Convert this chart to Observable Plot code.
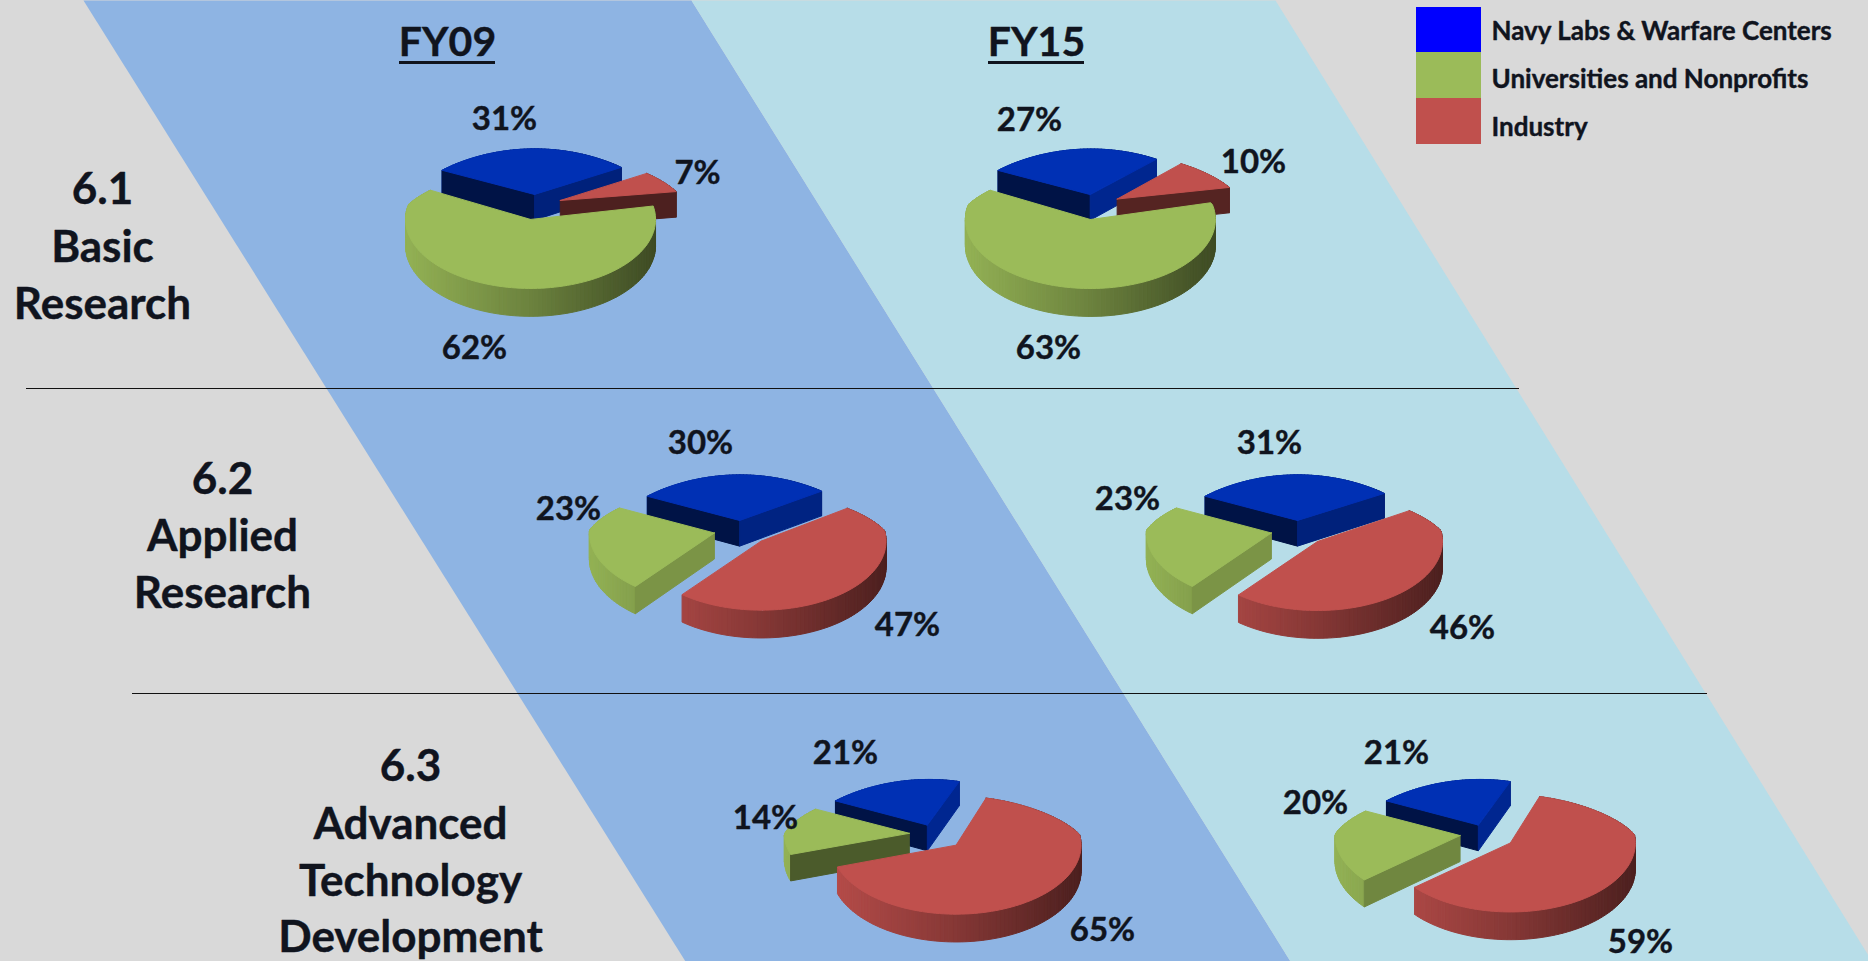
<!DOCTYPE html>
<html>
<head>
<meta charset="utf-8">
<style>html,body{margin:0;padding:0;background:#d9d9d9;overflow:hidden}svg{display:block}</style>
<script src="https://cdn.jsdelivr.net/npm/d3@7"></script>
<script src="https://cdn.jsdelivr.net/npm/@observablehq/plot@0.6"></script>
</head>
<body>
<script>
// ---------- data ----------
const sliceOrder = ["Navy", "Industry", "Universities"];
const legendLabels = ["Navy Labs & Warfare Centers", "Universities and Nonprofits", "Industry"];
const fiscalYears = ["FY09", "FY15"];
const basic09 = [31, 7, 62];
const basic15 = [27, 10, 63];
const applied09 = [30, 47, 23];
const applied15 = [31, 46, 23];
const advanced09 = [21, 65, 14];
const advanced15 = [21, 59, 20];
const rowLabels = [["6.1", "Basic", "Research"], ["6.2", "Applied", "Research"], ["6.3", "Advanced", "Technology", "Development"]];

// ---------- layout and style ----------
const W = 1868, H = 961;
const colors = {Navy: "#0030b4", Universities: "#9bbb59", Industry: "#c0504d"};
const legendColors = {Navy: "#0000ff", Universities: "#9bbb59", Industry: "#c0504d"};
const firstAngle = -58;
const geom = {r: 125, kFront: 0.552, kBack: 0.365, narrow: 0.17, depth: 26, explode: 0.22};
const pies = [
  {values: basic09, cx: 535, cy: 204, labels: [[504, 119], [697, 173], [474, 348]]},
  {values: basic15, cx: 1094, cy: 204, labels: [[1029, 120], [1253, 162], [1048, 348]]},
  {values: applied09, cx: 741, cy: 530, labels: [[700, 443], [907, 625], [568, 509]]},
  {values: applied15, cx: 1298, cy: 530, labels: [[1269, 443], [1462, 628], [1127, 499]]},
  {values: advanced09, cx: 936, cy: 834, labels: [[845, 753], [1102, 930], [765, 818]]},
  {values: advanced15, cx: 1487, cy: 834, labels: [[1396, 753], [1640, 942], [1315, 803]]}
];
const bandShapes = [
  {color: "#8eb4e3", pts: [[83, 0], [691, 0], [1290, 961], [685, 961]]},
  {color: "#b7dde8", pts: [[691, 0], [1275, 0], [1868, 955], [1868, 961], [1290, 961]]}
];
const rowRules = [{y: 388, x1: 26, x2: 1519}, {y: 693, x1: 132, x2: 1707}];
const rowPos = [{x: 102, ys: [189, 247, 304]}, {x: 222, ys: [479, 536, 593]}, {x: 410, ys: [766, 824, 881, 937]}];
const fyPos = [{x: 447, y: 42}, {x: 1036, y: 42}];
const legendRows = [{y1: 7, y2: 52, ty: 31}, {y1: 52, y2: 98, ty: 79}, {y1: 98, y2: 144, ty: 127}];
const font = "Lato";

// ---------- geometry built from the values ----------
const rad = d => d * Math.PI / 180;
const wallShade = d3.scaleLinear().domain([128, 140, 162, 170]).range([0.8, 0.72, 0.48, 0.39]).clamp(true);
const arcShade = d3.scaleLinear().domain([-1, 0, 1]).range([0.95, 0.7, 0.4]);
const shade = (c, f) => { const q = d3.rgb(c); return d3.rgb(q.r * f, q.g * f, q.b * f).formatHex(); };

const polys = [];
function addPoly(color, pts) {
  const id = polys.length ? polys[polys.length - 1].id + 1 : 0;
  [...pts, pts[0]].forEach(([x, y]) => polys.push({id, color, x, y}));
}
function project(pie, u, v, down) {
  const sx = v < 0 ? 1 + geom.narrow * v : 1;
  const ky = v < 0 ? geom.kBack : geom.kFront;
  return [pie.cx + geom.r * u * sx,
          pie.cy + geom.r * ky * v + (down ? geom.depth * (1 + 0.06 * v) : 0)];
}
const normalVisible = n => -Math.cos(rad(n)) > 0;
const norm360 = a => ((a % 360) + 360) % 360;

pies.forEach(pie => {
  let a = firstAngle;
  const slices = pie.values.map((val, i) => {
    const start = a, end = a + val * 3.6; a = end;
    return {name: sliceOrder[i], start, end, mid: (start + end) / 2};
  });
  slices.slice().sort((p, q) => -Math.cos(rad(p.mid)) - -Math.cos(rad(q.mid))).forEach(s => {
    const ox = Math.sin(rad(s.mid)) * geom.explode, oy = -Math.cos(rad(s.mid)) * geom.explode;
    const base = colors[s.name];
    const angles = d3.range(s.start, s.end, 2).concat([s.end]);
    const rim = t => [ox + Math.sin(rad(t)), oy - Math.cos(rad(t))];
    angles.slice(0, -1).forEach((t, i) => {
      const [u0, v0] = rim(t), [u1, v1] = rim(angles[i + 1]);
      addPoly(shade(base, arcShade(Math.sin(rad(t)))),
        [project(pie, u0, v0, false), project(pie, u1, v1, false), project(pie, u1, v1, true), project(pie, u0, v0, true)]);
    });
    [[s.start, s.start - 90], [s.end, s.end + 90]].forEach(([t, n]) => {
      if (!normalVisible(n)) return;
      const [u, v] = rim(t);
      addPoly(shade(base, wallShade(norm360(n))),
        [project(pie, ox, oy, false), project(pie, u, v, false), project(pie, u, v, true), project(pie, ox, oy, true)]);
    });
    addPoly(base, [project(pie, ox, oy, false), ...angles.map(t => { const [u, v] = rim(t); return project(pie, u, v, false); })]);
  });
});

const bands = bandShapes.flatMap((b, id) => [...b.pts, b.pts[0]].map(([x, y]) => ({id, color: b.color, x, y})));
const pctLabels = pies.flatMap(p => p.values.map((v, i) => ({text: `${v}%`, x: p.labels[i][0], y: p.labels[i][1]})));
const rowText = rowLabels.flatMap((lines, i) => lines.map((text, j) => ({text, x: rowPos[i].x, y: rowPos[i].ys[j]})));
const fyText = fiscalYears.map((text, i) => ({text, ...fyPos[i]}));
const legendKeys = ["Navy", "Universities", "Industry"];
const legendData = legendKeys.map((k, i) => ({label: legendLabels[i], color: legendColors[k], ...legendRows[i]}));
const ink = "#10141e";
const textOpts = {fontFamily: font, fontWeight: 700, fill: ink, stroke: ink, strokeWidth: 0.4};

const chart = Plot.plot({
  width: W, height: H, margin: 0,
  x: {domain: [0, W], range: [0, W], axis: null},
  y: {domain: [0, H], range: [0, H], axis: null},
  style: {background: "#d9d9d9"},
  marks: [
    Plot.line(bands, {x: "x", y: "y", z: "id", fill: d => d.color, stroke: null}),
    Plot.ruleY(rowRules, {y: "y", x1: "x1", x2: "x2", stroke: "#111", strokeWidth: 1.2}),
    Plot.line(polys, {x: "x", y: "y", z: "id", fill: d => d.color, stroke: d => d.color, strokeWidth: 1}),
    Plot.rect(legendData, {x1: () => 1416, x2: () => 1481, y1: "y1", y2: "y2", fill: d => d.color}),
    Plot.text(legendData, {x: () => 1491, y: "ty", text: "label", textAnchor: "start", fontSize: 26, ...textOpts}),
    Plot.text(pctLabels, {x: "x", y: "y", text: "text", fontSize: 33, ...textOpts}),
    Plot.text(rowText, {x: "x", y: "y", text: "text", fontSize: 44, ...textOpts}),
    Plot.text(fyText, {x: "x", y: "y", text: "text", fontSize: 41, ...textOpts}),
    Plot.ruleY(fyText, {y: d => d.y + 20, x1: d => d.x - 48, x2: d => d.x + 48, stroke: ink, strokeWidth: 3})
  ]
});
document.body.appendChild(chart);
</script>
</body>
</html>
